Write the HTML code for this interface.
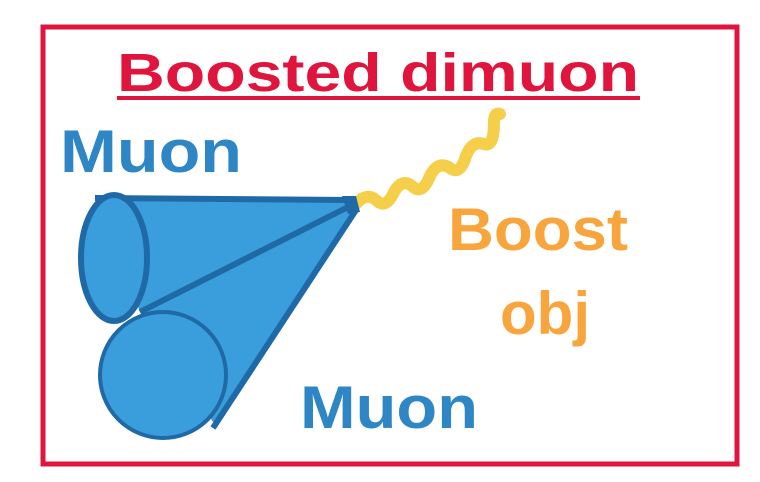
<!DOCTYPE html>
<html>
<head>
<meta charset="utf-8">
<style>
  html,body{margin:0;padding:0;background:#fff;}
  svg{display:block;}
  text{font-family:"Liberation Sans",sans-serif;font-weight:bold;}
</style>
</head>
<body>
<svg width="760" height="482" viewBox="0 0 760 482">
  <rect x="43" y="27" width="694" height="437" fill="none" stroke="#e0153d" stroke-width="5"/>

  <text x="117" y="91" textLength="522" lengthAdjust="spacingAndGlyphs" font-size="54" fill="#e0153d">Boosted dimuon</text>
  <rect x="117" y="96" width="523" height="4" fill="#e0153d"/>

  <text x="60" y="172" textLength="182" lengthAdjust="spacingAndGlyphs" font-size="60" fill="#2f86c4">Muon</text>

  <path d="M356 204 q10 -12 20 -4 q10 10 18 -8 q8 -14 18 -6 q10 10 18 -10 q8 -16 20 -8 q10 8 16 -12 q6 -16 18 -12 q10 4 10 -22 q0 -10 6 -8" fill="none" stroke="#f5cf4a" stroke-width="12" stroke-linecap="round"/>

  <g>
    <polygon points="95,198 350,198 356,210 215,425 140,312" fill="#3b9edc" stroke="none"/>
    <circle cx="163" cy="375" r="63" fill="#3b9edc" stroke="#1f6aa6" stroke-width="4"/>
    <line x1="95" y1="198" x2="350" y2="200" stroke="#1f6aa6" stroke-width="6"/>
    <line x1="352" y1="205" x2="140" y2="312" stroke="#1f6aa6" stroke-width="6"/>
    <line x1="356" y1="210" x2="213" y2="428" stroke="#1f6aa6" stroke-width="6"/>
    <polygon points="342,196 356,196 360,212 348,214" fill="#1f6aa6"/>
    <ellipse cx="114" cy="258" rx="33" ry="63" fill="#3b9edc" stroke="#1f6aa6" stroke-width="6"/>
  </g>

  <text x="448" y="250" textLength="180" lengthAdjust="spacingAndGlyphs" font-size="60" fill="#f7a53c">Boost</text>
  <text x="500" y="334" textLength="90" lengthAdjust="spacingAndGlyphs" font-size="60" fill="#f7a53c">obj</text>

  <text x="300" y="428" textLength="178" lengthAdjust="spacingAndGlyphs" font-size="60" fill="#2f86c4">Muon</text>
</svg>
</body>
</html>
